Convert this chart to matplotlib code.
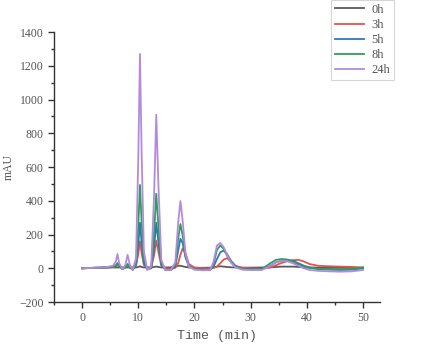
import matplotlib
matplotlib.use("Agg")
import matplotlib.pyplot as plt
from matplotlib.ticker import MultipleLocator

# retention time grid (min)
time_min = [0, 2, 4, 5.5, 6.0, 6.3, 6.6, 7.2, 7.7, 8.1, 8.5, 9.0,
            9.6, 10.0, 10.3, 10.6, 11.0, 11.6, 12.3, 12.8, 13.2, 13.6, 14.1, 14.8,
            15.8, 16.6, 17.1, 17.5, 17.9, 18.4, 19.0, 20.0, 21.5, 22.8, 23.4, 24.0,
            24.6, 25.2, 25.8, 26.5, 27.3, 28.5, 30.0, 32.0, 33.5, 34.5, 35.5, 36.5,
            37.5, 38.5, 39.5, 40.5, 42.0, 44.0, 46.0, 48.0, 50.0]

mau_0h = [0, 2, 3, 5, 5, 5, 5, 5, 5, 5, 5, 5,
          5, 8, 12, 8, 5, 5, 5, 8, 10, 8, 5, 5,
          6, 10, 15, 15, 12, 8, 5, 3, 3, 4, 6, 10,
          12, 10, 8, 6, 5, 4, 4, 5, 6, 8, 10, 10,
          10, 8, 6, 5, 4, 3, 3, 3, 3]

mau_3h = [0, 3, 5, 8, 12, 20, 10, 5, 8, 15, 8, 5,
          15, 85, 160, 90, 20, 3, 5, 75, 165, 95, 15, 0,
          -3, 3, 30, 80, 118, 90, 25, 5, 0, 0, 2, 10,
          30, 52, 60, 40, 15, 3, 0, -3, 5, 18, 32, 42,
          48, 50, 40, 25, 15, 12, 10, 8, 5]

mau_5h = [0, 3, 5, 10, 15, 30, 15, -5, 5, 25, 5, -8,
          20, 140, 270, 150, 30, -5, 0, 120, 270, 150, 20, -8,
          -10, 12, 105, 175, 150, 65, 12, -3, -8, -8, 10, 55,
          95, 105, 85, 45, 12, -3, -5, -5, 15, 35, 45, 50,
          45, 30, 15, 5, -5, -8, -10, -8, 0]

mau_8h = [0, 3, 5, 10, 15, 30, 15, -5, 5, 25, 5, -8,
          30, 250, 494, 270, 50, -5, 5, 200, 442, 240, 30, -8,
          -10, 25, 175, 262, 195, 75, 12, -5, -10, -8, 25, 110,
          135, 115, 75, 35, 8, -5, -8, -5, 30, 50, 55, 52,
          40, 22, 10, 2, -3, -5, -5, -3, 5]

mau_24h = [0, 3, 5, 15, 40, 85, 30, -5, 20, 80, 20, -10,
           60, 650, 1270, 680, 100, -10, 10, 420, 910, 480, 50, -10,
           -10, 35, 270, 399, 280, 90, 10, -8, -12, -10, 40, 135,
           150, 125, 80, 35, 5, -8, -10, -10, 15, 35, 45, 42,
           30, 15, 0, -10, -15, -18, -20, -18, -10]

labels = ["0h", "3h", "5h", "8h", "24h"]
colors = ["#5a5a5a", "#e5534b", "#2f78b7", "#2e9e5b", "#b58ade"]


def main():
    fig = plt.figure(figsize=(4.44, 3.48), dpi=100)
    ax = fig.add_axes([0.1216, 0.132, 0.734, 0.776])

    series = [mau_0h, mau_3h, mau_5h, mau_8h, mau_24h]
    for y, lab, c in zip(series, labels, colors):
        ax.plot(time_min, y, color=c, lw=1.3, label=lab)

    ax.set_xlim(-5, 53)
    ax.set_ylim(-200, 1400)
    ax.xaxis.set_major_locator(MultipleLocator(10))
    ax.xaxis.set_minor_locator(MultipleLocator(5))
    ax.yaxis.set_major_locator(MultipleLocator(200))
    ax.yaxis.set_minor_locator(MultipleLocator(100))

    for s in ["top", "right"]:
        ax.spines[s].set_visible(False)
    for s in ["left", "bottom"]:
        ax.spines[s].set_color("#333333")
        ax.spines[s].set_linewidth(1.0)

    ax.tick_params(which="major", direction="out", length=4, width=1,
                   color="#333333", labelcolor="#555555", labelsize=8.5)
    ax.tick_params(which="minor", direction="out", length=2.5, width=1,
                   color="#333333")
    for t in ax.get_xticklabels() + ax.get_yticklabels():
        t.set_fontfamily("Liberation Serif")

    ax.set_xlabel("Time (min)", family="Liberation Mono", fontsize=9.5,
                  color="#555555", labelpad=4)
    ax.set_ylabel("mAU", family="Liberation Serif", fontsize=8.5,
                  color="#555555")
    ax.yaxis.set_label_coords(-0.12, 0.5)

    leg = ax.legend(loc="upper left", bbox_to_anchor=(331 / 444, 1.0),
                    bbox_transform=fig.transFigure, fancybox=False,
                    prop={"family": "Liberation Serif", "size": 9},
                    handlelength=2.3, labelspacing=0.25, borderpad=0.3,
                    handletextpad=0.6, borderaxespad=0)
    leg.get_frame().set_edgecolor("#cccccc")
    leg.get_frame().set_linewidth(0.8)
    for t in leg.get_texts():
        t.set_color("#555555")

    fig.savefig("out.png", dpi=100)


if __name__ == '__main__':
    main()
